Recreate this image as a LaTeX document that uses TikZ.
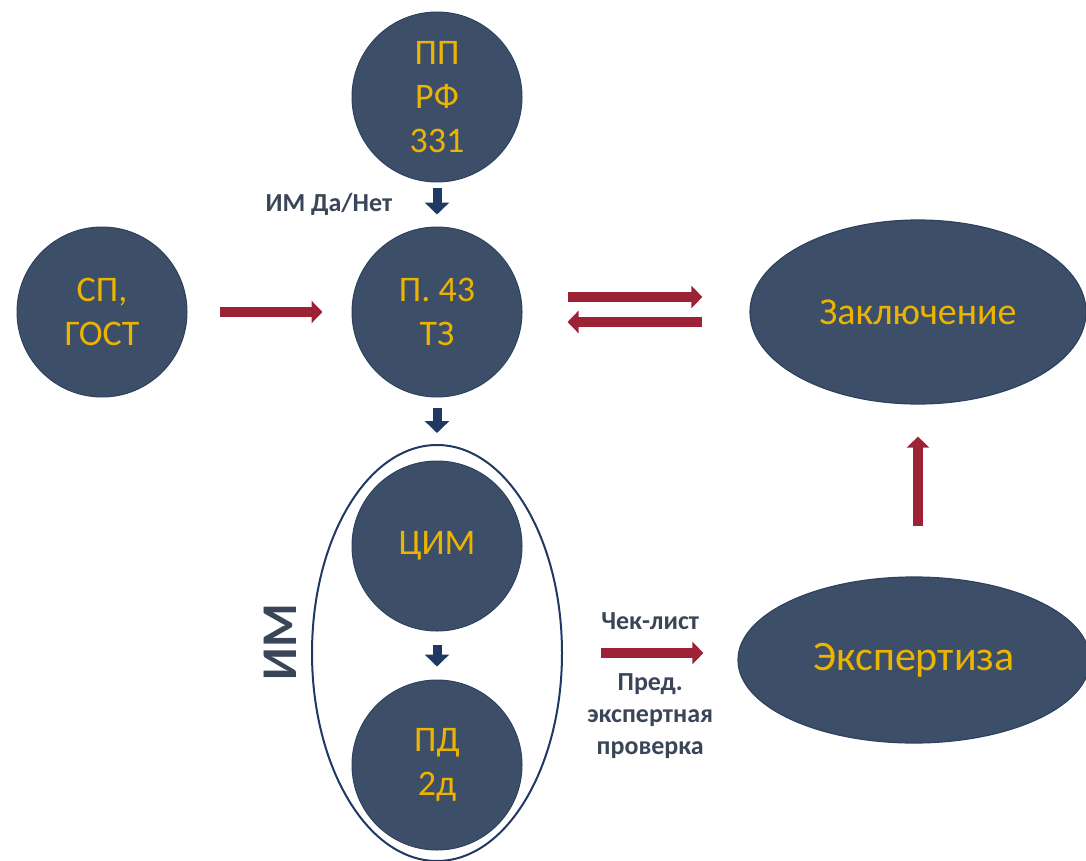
\documentclass[tikz,border=0pt]{standalone}
\usepackage{fontspec}
\setmainfont{Carlito}
\usetikzlibrary{arrows.meta,shapes.geometric}
\definecolor{slate}{HTML}{3D4F68}
\definecolor{slateline}{HTML}{2C4260}
\definecolor{gold}{HTML}{EBB400}
\definecolor{wine}{HTML}{9E2236}
\definecolor{navy}{HTML}{1F3864}
\definecolor{labelgray}{HTML}{3A4657}

\begin{document}
\begin{tikzpicture}[x=1pt,y=-1pt,
    blob/.style={circle,fill=slate,draw=slateline,line width=1pt,minimum size=170pt,inner sep=0pt,
      text=gold,align=center,font=\fontsize{36}{44}\selectfont},
    oval/.style={ellipse,fill=slate,draw=slateline,line width=1.2pt,inner sep=0pt,text=gold},
    redarrow/.style={wine,line width=10pt,-{Triangle[width=22pt,length=11pt]}},
    navyarrow/.style={navy,line width=9pt,-{Triangle[width=24pt,length=12pt]}},
    note/.style={text=labelgray,font=\bfseries\fontsize{26}{32}\selectfont,align=center}]
  \useasboundingbox (0,0) rectangle (1086,861);

  \node[blob] (pp) at (437,97) {ПП\\РФ\\331};
  \node[blob] (tz) at (437,312) {П. 43\\ТЗ};
  \node[blob] (sp) at (102,312) {СП,\\ГОСТ};
  \node[oval,minimum width=336pt,minimum height=184pt,font=\fontsize{38}{46}\selectfont] (zakl) at (918,312) {Заключение};
  \node[ellipse,draw=navy,line width=2pt,fill=white,minimum width=250pt,minimum height=416pt] (imbox) at (437,653) {};
  \node[blob] (cim) at (437,546) {ЦИМ};
  \node[blob] (pd) at (437,765) {ПД\\2д};
  \node[oval,minimum width=352pt,minimum height=166pt,font=\fontsize{42}{50}\selectfont] (ekspert) at (914,660) {Экспертиза};
  \node[rotate=90,text=labelgray,font=\bfseries\fontsize{50}{60}\selectfont] (imlabel) at (280,642) {ИМ};

  \draw[navyarrow,shorten <=6pt,shorten >=12pt] (pp) -- (tz) node[midway,left=37pt,note] {ИМ Да/Нет};
  \draw[navyarrow,shorten <=10pt,shorten >=11pt] (tz) -- (imbox);
  \draw[navyarrow,shorten <=13pt,shorten >=13pt] (cim) -- (pd);

  \draw[redarrow,shorten <=32pt,shorten >=29pt] (sp) -- (tz);
  \draw[redarrow,shorten <=45pt,shorten >=47pt] ([yshift=15pt]tz.east) -- ([yshift=15pt]zakl.west);
  \draw[redarrow,shorten <=47pt,shorten >=45pt] ([yshift=-10pt]zakl.west) -- ([yshift=-10pt]tz.east);
  \draw[redarrow,shorten <=38pt,shorten >=34pt] (imbox.east) -- (imbox.east -| ekspert.west)
    node[midway,above=15pt,note] {Чек-лист}
    node[midway,below=12pt,note] {Пред.\\экспертная\\проверка};
  \draw[redarrow,shorten <=50pt,shorten >=32pt] (ekspert.north -| zakl.south) -- (zakl.south);
\end{tikzpicture}
\end{document}
